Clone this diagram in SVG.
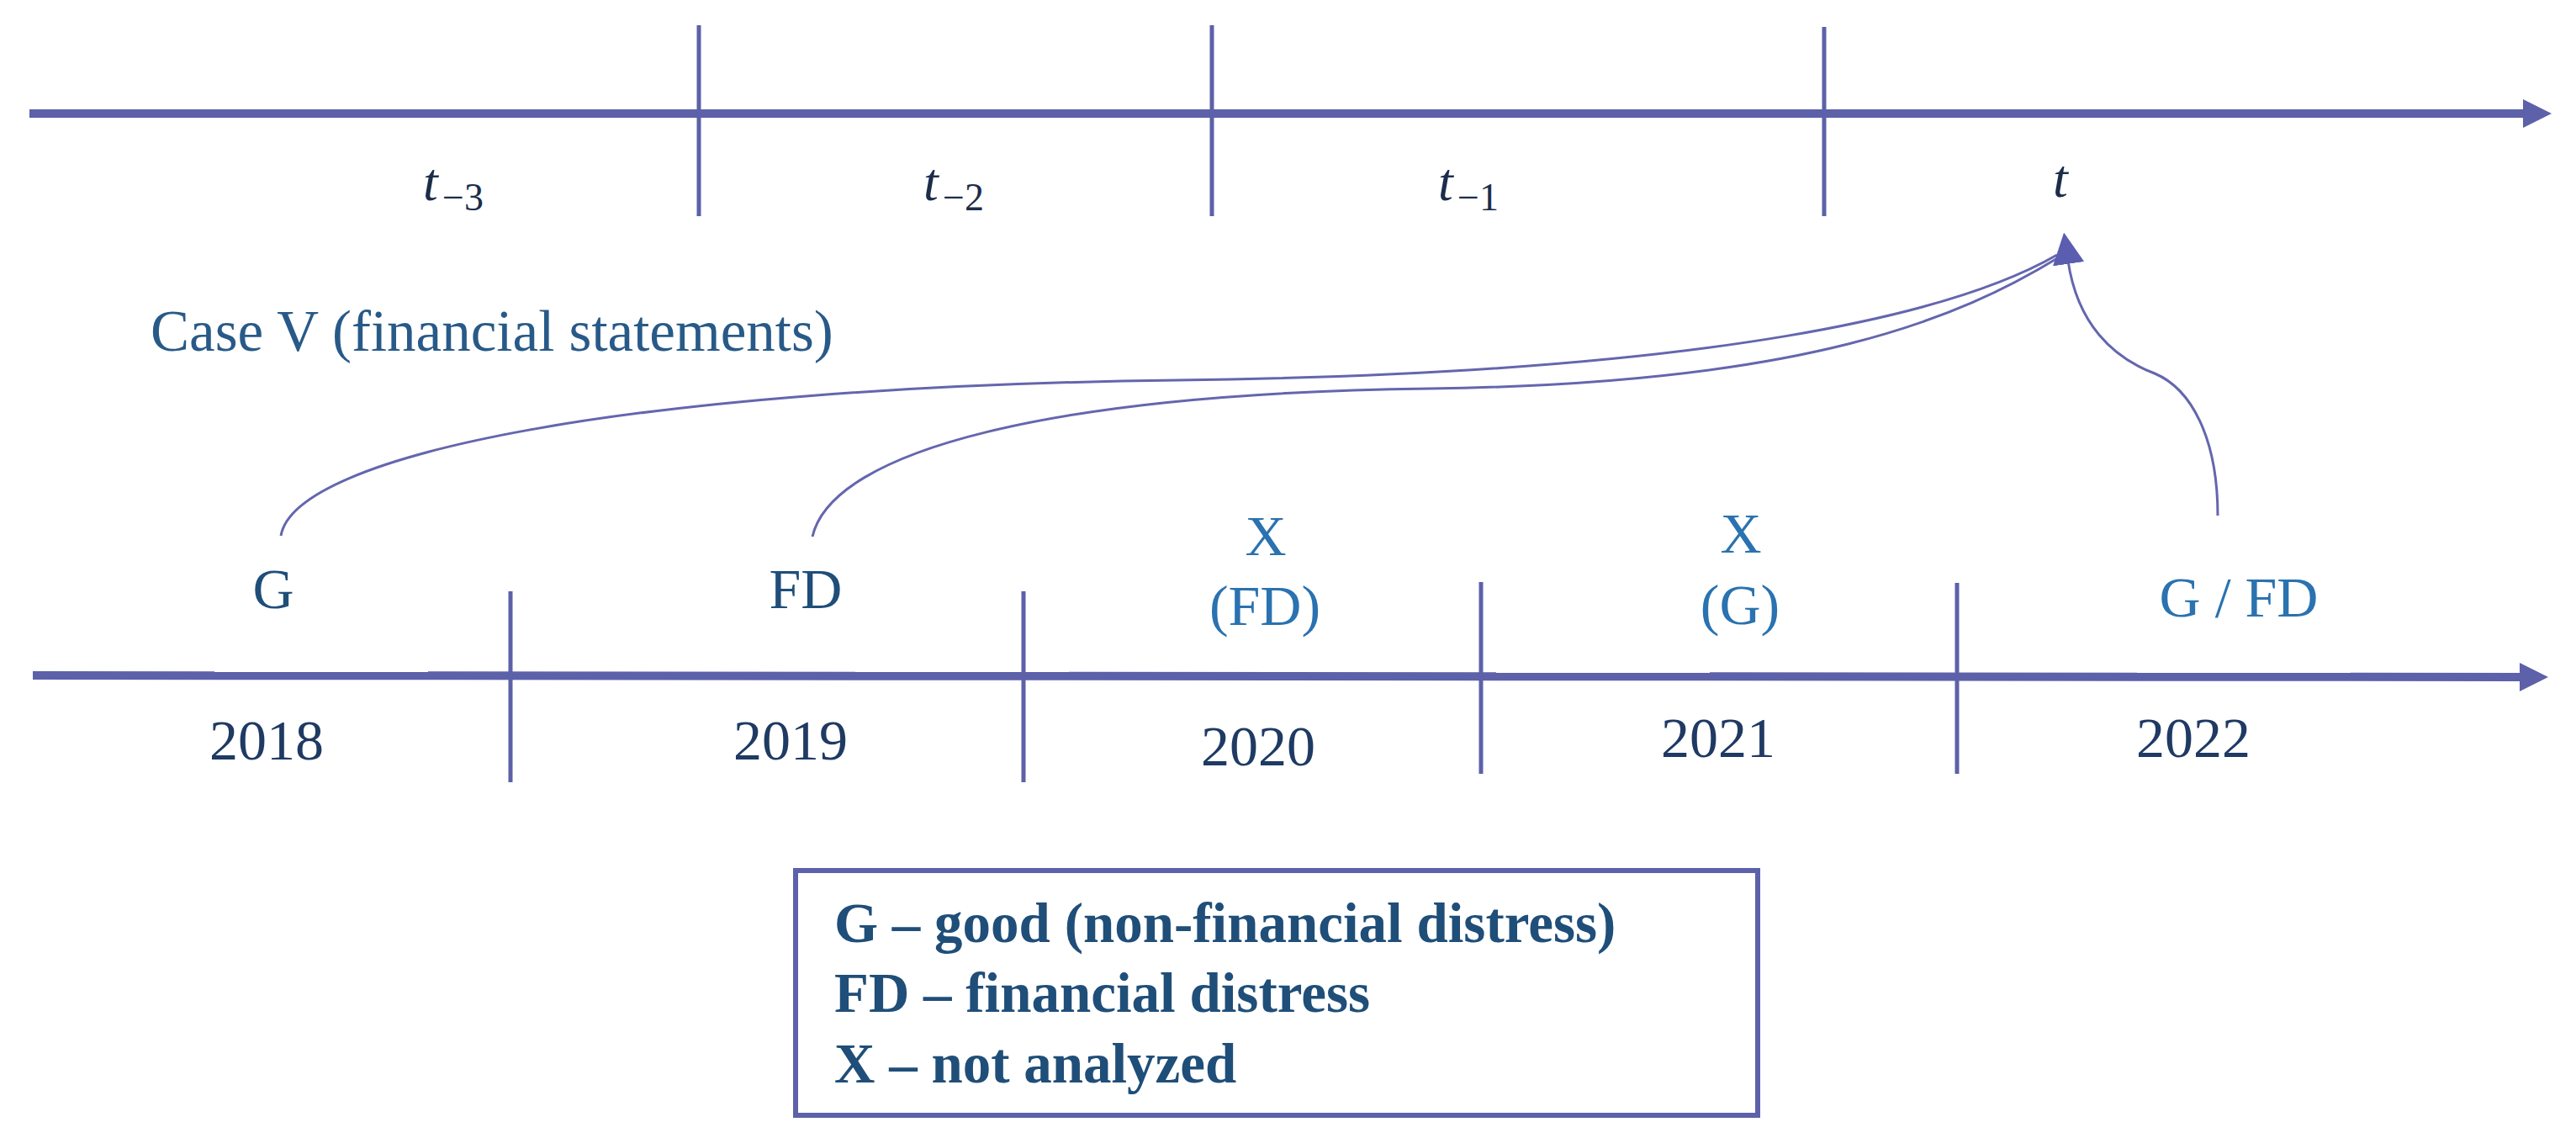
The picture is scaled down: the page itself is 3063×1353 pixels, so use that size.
<svg xmlns="http://www.w3.org/2000/svg" width="3063" height="1353" viewBox="0 0 3063 1353">
<style>
.axis{stroke:#5c61a9;stroke-width:10;fill:none}
.tick{stroke:#5c61a9;stroke-width:5;fill:none}
.curve{stroke:#6466ae;stroke-width:3;fill:none}
.tl{font-family:"Liberation Serif","Times New Roman",serif;font-style:italic;fill:#1c2d4a}
.sub{font-family:"Liberation Serif","Times New Roman",serif;fill:#1c2d4a}
.lbl{font-family:"Liberation Serif","Times New Roman",serif;font-size:68px;text-anchor:middle}
.dark{fill:#1f4e79}
.blue{fill:#2a72b0}
.year{fill:#1f3a63}
.leg{font-family:"Liberation Serif","Times New Roman",serif;font-size:67px;font-weight:bold;fill:#1f4e79}
</style>
<defs>
<marker id="axhead" viewBox="0 0 10 10" refX="0" refY="5" markerWidth="3.4" markerHeight="3.4" markerUnits="strokeWidth" orient="auto">
<path d="M0 0 L10 5 L0 10 Z" fill="#5c61a9"/>
</marker>
<marker id="cvhead" viewBox="0 0 10 10" refX="1" refY="5" markerWidth="12.5" markerHeight="12.5" markerUnits="strokeWidth" orient="auto">
<path d="M0 0 L10 5 L0 10 Z" fill="#5a5db0"/>
</marker>
</defs>
<rect width="3063" height="1353" fill="#ffffff"/>

<g id="top-axis">
<line class="axis" x1="35" y1="135" x2="3000" y2="135" marker-end="url(#axhead)"/>
<line class="tick" x1="831" y1="30" x2="831" y2="257"/>
<line class="tick" x1="1441" y1="30" x2="1441" y2="257"/>
<line class="tick" x1="2169" y1="32" x2="2169" y2="257"/>
</g>

<g id="label-t-3"><text class="tl" x="503" y="238" font-size="64">t</text><text class="sub" x="526" y="250" font-size="46">−3</text></g>
<g id="label-t-2"><text class="tl" x="1098" y="238" font-size="64">t</text><text class="sub" x="1121" y="250" font-size="46">−2</text></g>
<g id="label-t-1"><text class="tl" x="1710" y="238" font-size="64">t</text><text class="sub" x="1733" y="250" font-size="46">−1</text></g>
<g id="label-t"><text class="tl" x="2441" y="234" font-size="64">t</text></g>

<g id="case-label"><text x="179" y="417" font-family="'Liberation Serif','Times New Roman',serif" font-size="69" fill="#285a88">Case V (financial statements)</text></g>

<g id="bottom-axis">
<line class="axis" x1="39" y1="803" x2="2996" y2="805" marker-end="url(#axhead)"/>
<line class="tick" x1="607" y1="703" x2="607" y2="930"/>
<line class="tick" x1="1217" y1="703" x2="1217" y2="930"/>
<line class="tick" x1="1761" y1="692" x2="1761" y2="920"/>
<line class="tick" x1="2327" y1="693" x2="2327" y2="920"/>
</g>

<g id="node-2018"><text class="lbl dark" x="325" y="723">G</text><text class="lbl year" x="317" y="903">2018</text></g>
<g id="node-2019"><text class="lbl dark" x="958" y="723">FD</text><text class="lbl year" x="940" y="903">2019</text></g>
<g id="node-2020"><text class="lbl blue" x="1505" y="660">X</text><text class="lbl blue" x="1504" y="743">(FD)</text><text class="lbl year" x="1496" y="910">2020</text></g>
<g id="node-2021"><text class="lbl blue" x="2070" y="657">X</text><text class="lbl blue" x="2069" y="742">(G)</text><text class="lbl year" x="2043" y="900">2021</text></g>
<g id="node-2022"><text class="lbl blue" x="2662" y="733">G / FD</text><text class="lbl year" x="2608" y="900">2022</text></g>

<g id="connectors">
<path class="curve" d="M334 637 C350 540 750 460 1400 452 S2330 370 2446 303"/>
<path class="curve" d="M966 638 C990 535 1250 468 1700 462 S2330 378 2448 306"/>
<path class="curve" d="M2637 613 C2637 520 2605 462 2562 444 C2512 425 2470 385 2459 310" marker-end="url(#cvhead)"/>
</g>

<g id="legend">
<rect x="946" y="1035" width="1144" height="291" fill="none" stroke="#5c61a9" stroke-width="6"/>
<text class="leg" x="992" y="1120">G – good (non-financial distress)</text>
<text class="leg" x="992" y="1203">FD – financial distress</text>
<text class="leg" x="992" y="1287">X – not analyzed</text>
</g>
</svg>
